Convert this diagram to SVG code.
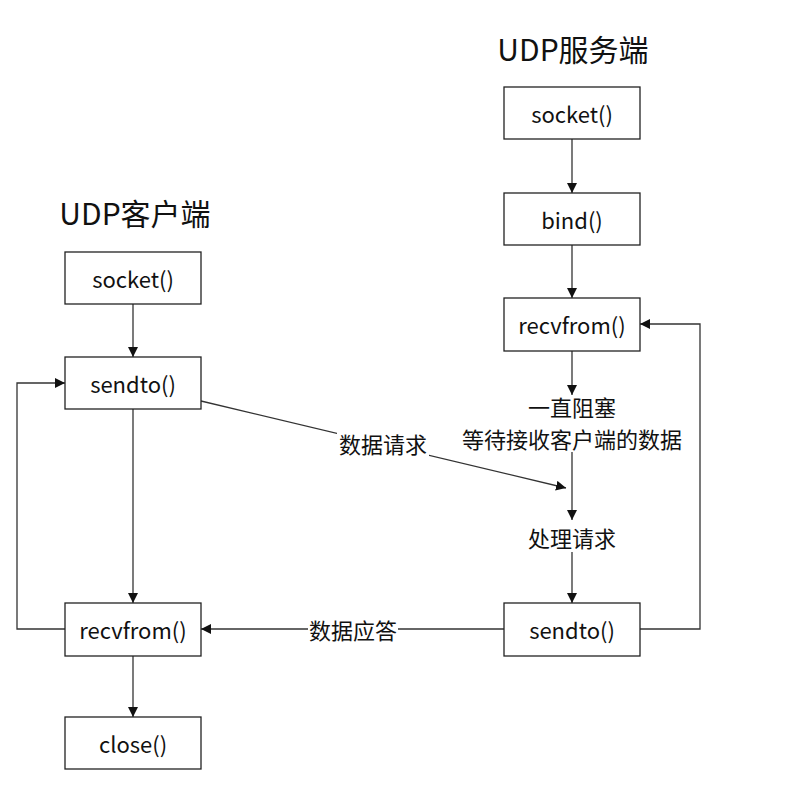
<svg xmlns="http://www.w3.org/2000/svg" width="800" height="795" viewBox="0 0 800 795">
<style>
.box{fill:#fff;stroke:#222;stroke-width:1.3}
.t{font-family:"Noto Sans CJK SC","Noto Sans",sans-serif;font-size:22px;fill:#111;text-anchor:middle;dominant-baseline:central}
.title{font-family:"Noto Sans CJK SC","Noto Sans",sans-serif;font-size:30px;fill:#111;text-anchor:middle}
.c{fill:none;stroke:#333;stroke-width:1.3;marker-end:url(#ah)}
</style>
<defs>
<marker id="ah" viewBox="0 0 10 10" refX="10" refY="5" markerWidth="10" markerHeight="10" markerUnits="userSpaceOnUse" orient="auto">
<path d="M0,0 L10,5 L0,10 z" fill="#111"/>
</marker>
</defs>
<rect width="800" height="795" fill="#fff"/>
<text class="title" x="573" y="61">UDP服务端</text>
<text class="title" x="135" y="225">UDP客户端</text>
<g id="connectors">
<line class="c" x1="572" y1="139" x2="572" y2="193"/>
<line class="c" x1="572" y1="245" x2="572" y2="298"/>
<line class="c" x1="572" y1="351" x2="572" y2="395"/>
<line class="c" x1="572" y1="452" x2="572" y2="520"/>
<line class="c" x1="572" y1="552" x2="572" y2="603"/>
<polyline class="c" points="640,629 700,629 700,324 640,324"/>
<line class="c" x1="504" y1="629" x2="201" y2="629"/>
<line class="c" x1="133" y1="304" x2="133" y2="357"/>
<line class="c" x1="133" y1="409" x2="133" y2="603"/>
<line class="c" x1="133" y1="656" x2="133" y2="717"/>
<polyline class="c" points="65,629 17,629 17,383 65,383"/>
<line class="c" x1="201" y1="401" x2="566" y2="488"/>
</g>
<g id="labels">
<rect x="337" y="428" width="92" height="30" fill="#fff"/>
<text class="t" x="383" y="443">数据请求</text>
<rect x="308" y="616" width="90" height="28" fill="#fff"/>
<text class="t" x="353" y="629">数据应答</text>
<text class="t" x="572" y="406">一直阻塞</text>
<text class="t" x="572" y="438">等待接收客户端的数据</text>
<rect x="525" y="522" width="94" height="30" fill="#fff"/>
<text class="t" x="572" y="537">处理请求</text>
</g>
<g id="s_socket"><rect class="box" x="504" y="87" width="136" height="52"/><text class="t" x="572" y="113">socket()</text></g>
<g id="s_bind"><rect class="box" x="504" y="193" width="136" height="52"/><text class="t" x="572" y="219">bind()</text></g>
<g id="s_recvfrom"><rect class="box" x="504" y="298" width="136" height="53"/><text class="t" x="572" y="324">recvfrom()</text></g>
<g id="s_sendto"><rect class="box" x="504" y="603" width="136" height="53"/><text class="t" x="572" y="629">sendto()</text></g>
<g id="c_socket"><rect class="box" x="65" y="252" width="136" height="52"/><text class="t" x="133" y="278">socket()</text></g>
<g id="c_sendto"><rect class="box" x="65" y="357" width="136" height="52"/><text class="t" x="133" y="383">sendto()</text></g>
<g id="c_recvfrom"><rect class="box" x="65" y="603" width="136" height="53"/><text class="t" x="133" y="629">recvfrom()</text></g>
<g id="c_close"><rect class="box" x="65" y="717" width="136" height="52"/><text class="t" x="133" y="743">close()</text></g>
</svg>
